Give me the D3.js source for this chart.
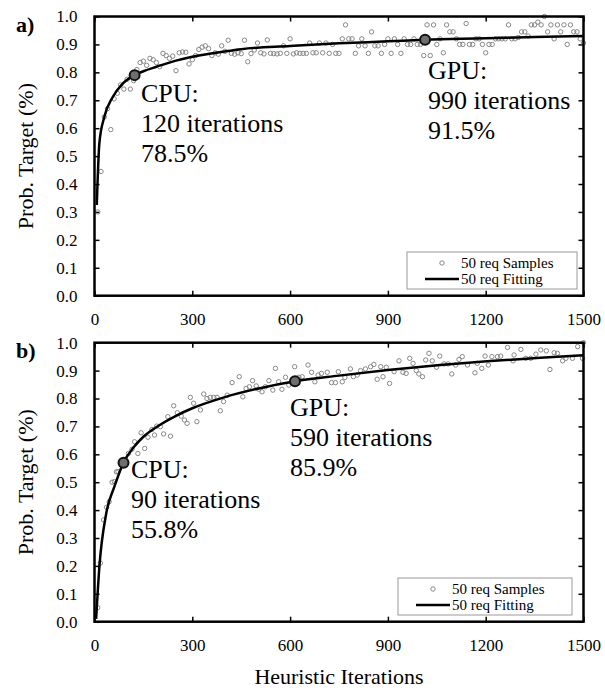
<!DOCTYPE html>
<html>
<head>
<meta charset="utf-8">
<title>Prob. Target vs Heuristic Iterations</title>
<script src="https://cdn.jsdelivr.net/npm/d3@7"></script>
<style>
  body { margin: 0; background: #fff; }
  text { font-family: "Liberation Serif", "Times New Roman", serif; fill: #000; }
</style>
</head>
<body>
<svg id="svg" width="605" height="692" xmlns="http://www.w3.org/2000/svg"></svg>
<script>
// ---- data ----
let xTicks = [0, 300, 600, 900, 1200, 1500];
let yTicks = [0, 0.1, 0.2, 0.3, 0.4, 0.5, 0.6, 0.7, 0.8, 0.9, 1.0];

// panel a) samples [iterations, prob]
let samplesA = [
  [10,0.30],[20,0.445],[30,0.64],[40,0.67],[50,0.595],[60,0.705],[70,0.725],[80,0.755],[90,0.74],[100,0.775],
  [110,0.74],[120,0.77],[130,0.81],[140,0.835],[150,0.84],[160,0.825],[170,0.85],[180,0.845],[190,0.835],[200,0.82],
  [210,0.868],[220,0.86],[230,0.85],[240,0.858],[250,0.806],[260,0.87],[270,0.873],[280,0.872],[290,0.83],[300,0.845],
  [310,0.86],[320,0.882],[330,0.89],[340,0.895],[350,0.885],[360,0.86],[370,0.87],[380,0.865],[390,0.895],[400,0.875],
  [410,0.915],[420,0.868],[430,0.865],[440,0.87],[450,0.867],[460,0.915],[470,0.838],[480,0.867],[490,0.88],[500,0.905],
  [510,0.87],[520,0.866],[530,0.916],[540,0.868],[550,0.867],[560,0.866],[570,0.868],[580,0.895],[590,0.868],[600,0.92],
  [610,0.866],[620,0.87],[630,0.868],[640,0.868],[650,0.868],[660,0.905],[670,0.87],[680,0.87],[690,0.905],[700,0.87],
  [710,0.905],[720,0.868],[730,0.9],[740,0.868],[750,0.868],[760,0.92],[770,0.97],[780,0.92],[790,0.92],[800,0.868],
  [810,0.895],[820,0.92],[830,0.895],[840,0.868],[850,0.945],[860,0.895],[870,0.895],[880,0.868],[890,0.9],[900,0.92],
  [910,0.868],[920,0.92],[930,0.9],[940,0.868],[950,0.92],[960,0.9],[970,0.9],[980,0.92],[990,0.9],[1000,0.9],
  [1010,0.86],[1020,0.97],[1030,0.86],[1040,0.97],[1050,0.9],[1060,0.92],[1070,0.87],[1080,0.97],[1090,0.945],[1100,0.945],
  [1110,0.92],[1120,0.9],[1130,0.9],[1140,0.975],[1150,0.9],[1160,0.9],[1170,0.92],[1180,0.92],[1190,0.9],[1200,0.87],
  [1210,0.9],[1220,0.9],[1230,0.92],[1240,0.92],[1250,0.92],[1260,0.92],[1270,0.97],[1280,0.92],[1290,0.92],[1300,0.925],
  [1310,0.945],[1320,0.945],[1330,0.93],[1340,0.97],[1350,0.97],[1360,0.98],[1370,0.97],[1380,1.0],[1390,0.945],[1400,0.97],
  [1410,0.92],[1420,0.97],[1430,0.945],[1440,0.97],[1450,0.9],[1460,0.97],[1470,0.945],[1480,0.945],[1490,0.92],[1500,0.905]
];

// panel a) fitted curve
let fitA = [[7,0.325],[15,0.547],[30,0.64],[55,0.71],[85,0.758],[123,0.79],[150,0.804],[190,0.82],[250,0.842],
  [300,0.856],[400,0.875],[450,0.883],[600,0.894],[750,0.904],[900,0.911],[1014,0.917],[1200,0.922],[1350,0.927],[1500,0.93]];

// panel b) samples
let samplesB = [
  [10,0.05],[18,0.21],[28,0.365],[37,0.41],[45,0.43],[54,0.50],[61,0.502],[67,0.537],[72,0.538],[104,0.603],
  [115,0.618],[123,0.645],[133,0.603],[143,0.677],[154,0.621],[164,0.661],[176,0.689],[184,0.669],[191,0.701],[202,0.699],
  [212,0.673],[225,0.735],[233,0.665],[243,0.774],[254,0.749],[266,0.737],[276,0.723],[284,0.711],[294,0.804],[304,0.783],
  [314,0.717],[325,0.759],[335,0.816],[345,0.80],[355,0.804],[366,0.804],[376,0.804],[386,0.756],[396,0.789],[407,0.812],
  [422,0.857],[444,0.878],[455,0.806],[465,0.836],[475,0.842],[485,0.864],[496,0.845],[504,0.833],[514,0.824],[524,0.842],
  [535,0.864],[547,0.83],[555,0.908],[565,0.86],[575,0.833],[586,0.876],[596,0.848],[614,0.914],[627,0.876],[637,0.878],
  [655,0.92],[666,0.894],[676,0.86],[686,0.884],[696,0.89],[714,0.894],[727,0.857],[739,0.857],[748,0.896],[760,0.86],
  [768,0.875],[785,0.906],[794,0.878],[806,0.884],[816,0.90],[831,0.906],[847,0.914],[857,0.922],[867,0.869],[878,0.914],
  [885,0.878],[895,0.912],[905,0.854],[919,0.896],[934,0.935],[946,0.894],[956,0.89],[967,0.944],[977,0.926],[987,0.90],
  [995,0.888],[1006,0.878],[1016,0.938],[1026,0.962],[1036,0.935],[1049,0.912],[1059,0.952],[1072,0.924],[1085,0.924],[1096,0.888],
  [1108,0.92],[1118,0.94],[1128,0.95],[1144,0.92],[1167,0.892],[1174,0.926],[1188,0.908],[1198,0.952],[1208,0.92],[1219,0.95],
  [1236,0.95],[1246,0.952],[1267,0.983],[1284,0.935],[1287,0.956],[1308,0.976],[1323,0.944],[1338,0.944],[1354,0.959],[1369,0.974],
  [1386,0.971],[1397,0.904],[1410,0.964],[1420,0.962],[1436,0.935],[1446,0.944],[1466,0.944],[1482,0.986],[1497,0.944],[1500,1.0]
];

// panel b) fitted curve
let fitB = [[5,0.01],[15,0.197],[36,0.388],[61,0.484],[89,0.57],[120,0.625],[150,0.663],[200,0.705],[250,0.738],
  [300,0.765],[400,0.805],[500,0.835],[615,0.862],[750,0.882],[900,0.902],[1060,0.92],[1214,0.934],[1368,0.946],[1500,0.955]];

// highlighted points [iterations, prob]
let cpuA = [123, 0.79], gpuA = [1014, 0.917];
let cpuB = [89, 0.57],  gpuB = [615, 0.862];

let notesA = [["CPU:", "120 iterations", "78.5%"], ["GPU:", "990 iterations", "91.5%"]];
let notesB = [["CPU:", "90 iterations", "55.8%"], ["GPU:", "590 iterations", "85.9%"]];

let legendLabels = ["50 req Samples", "50 req Fitting"];

// ---- drawing ----
let svg = d3.select("svg");
let x = d3.scaleLinear().domain([0, 1500]).range([94.5, 583.5]);

let panels = [
  { tag: "a)", top: 16.5, bottom: 295.7, samples: samplesA, fit: fitA, marks: [cpuA, gpuA], notes: notesA,
    notePos: [[141, 101.5], [428, 79]], legend: { x: 407, y: 252, w: 170, h: 37 } },
  { tag: "b)", top: 342.7, bottom: 621.7, samples: samplesB, fit: fitB, marks: [cpuB, gpuB], notes: notesB,
    notePos: [[131, 478], [290, 416]], legend: { x: 398, y: 578, w: 174, h: 37 } }
];

panels.forEach(drawPanel);

// x axis title
svg.append("text")
  .attr("x", (x(0) + x(1500)) / 2)
  .attr("y", 684)
  .attr("text-anchor", "middle")
  .style("font-size", "22px")
  .text("Heuristic Iterations");

function drawPanel(p) {
  let y = d3.scaleLinear().domain([0, 1]).range([p.bottom, p.top]);
  let g = svg.append("g");

  // axes with inward ticks on all four sides
  let bottomAxis = g.append("g").attr("transform", `translate(0,${p.bottom})`)
    .call(d3.axisBottom(x).tickValues(xTicks).tickSize(-5).tickPadding(17).tickFormat(d3.format("d")));
  let topAxis = g.append("g").attr("transform", `translate(0,${p.top})`)
    .call(d3.axisTop(x).tickValues(xTicks).tickSize(-5).tickFormat(""));
  let leftAxis = g.append("g").attr("transform", `translate(${x(0)},0)`)
    .call(d3.axisLeft(y).tickValues(yTicks).tickSize(-5).tickPadding(17).tickFormat(d3.format(".1f")));
  let rightAxis = g.append("g").attr("transform", `translate(${x(1500)},0)`)
    .call(d3.axisRight(y).tickValues(yTicks).tickSize(-5).tickFormat(""));

  [bottomAxis, topAxis, leftAxis, rightAxis].forEach(a => {
    a.select(".domain").remove();
    a.selectAll("line").attr("stroke", "#000").attr("stroke-width", 1.5);
    a.selectAll("text").style("font-size", "17px").attr("fill", "#000")
      .style("font-family", "'Liberation Serif', 'Times New Roman', serif");
  });

  // samples
  g.append("g").selectAll("circle").data(p.samples).enter()
    .append("circle")
    .attr("cx", d => x(d[0]))
    .attr("cy", d => y(d[1]))
    .attr("r", 2.2)
    .attr("fill", "none")
    .attr("stroke", "#888")
    .attr("stroke-width", 1);

  // fitted curve
  let line = d3.line().x(d => x(d[0])).y(d => y(d[1])).curve(d3.curveMonotoneX);
  g.append("path")
    .attr("d", line(p.fit))
    .attr("fill", "none")
    .attr("stroke", "#000")
    .attr("stroke-width", 2.5);

  // highlighted CPU / GPU points
  g.append("g").selectAll("circle").data(p.marks).enter()
    .append("circle")
    .attr("cx", d => x(d[0]))
    .attr("cy", d => y(d[1]))
    .attr("r", 5)
    .attr("fill", "#6e6e6e")
    .attr("stroke", "#111")
    .attr("stroke-width", 2);

  // annotations
  p.notes.forEach((lines, i) => {
    let t = g.append("text")
      .attr("x", p.notePos[i][0])
      .attr("y", p.notePos[i][1])
      .style("font-size", "26px");
    lines.forEach((s, j) => {
      t.append("tspan").attr("x", p.notePos[i][0]).attr("dy", j === 0 ? 0 : 30).text(s);
    });
  });

  // frame
  g.append("rect")
    .attr("x", x(0)).attr("y", p.top)
    .attr("width", x(1500) - x(0)).attr("height", p.bottom - p.top)
    .attr("fill", "none").attr("stroke", "#000").attr("stroke-width", 2.5);

  // legend
  let L = p.legend;
  let lg = g.append("g");
  lg.append("rect")
    .attr("x", L.x).attr("y", L.y).attr("width", L.w).attr("height", L.h)
    .attr("fill", "#fff").attr("stroke", "#9a9a9a").attr("stroke-width", 1);
  lg.append("circle")
    .attr("cx", L.x + 35).attr("cy", L.y + 11).attr("r", 2.2)
    .attr("fill", "none").attr("stroke", "#888").attr("stroke-width", 1);
  lg.append("line")
    .attr("x1", L.x + 18).attr("x2", L.x + 52)
    .attr("y1", L.y + 27).attr("y2", L.y + 27)
    .attr("stroke", "#000").attr("stroke-width", 2.5);
  lg.selectAll("text.leg").data(legendLabels).enter()
    .append("text")
    .attr("class", "leg")
    .attr("x", L.x + 54)
    .attr("y", (d, i) => L.y + 16 + i * 16)
    .style("font-size", "15px")
    .text(d => d);

  // panel tag
  g.append("text")
    .attr("x", 16)
    .attr("y", p.top + 15)
    .style("font-size", "22px")
    .style("font-weight", "bold")
    .text(p.tag);

  // y axis title
  g.append("text")
    .attr("transform", `translate(33,${(p.top + p.bottom) / 2}) rotate(-90)`)
    .attr("text-anchor", "middle")
    .style("font-size", "22px")
    .text("Prob. Target (%)");
}
</script>
</body>
</html>
